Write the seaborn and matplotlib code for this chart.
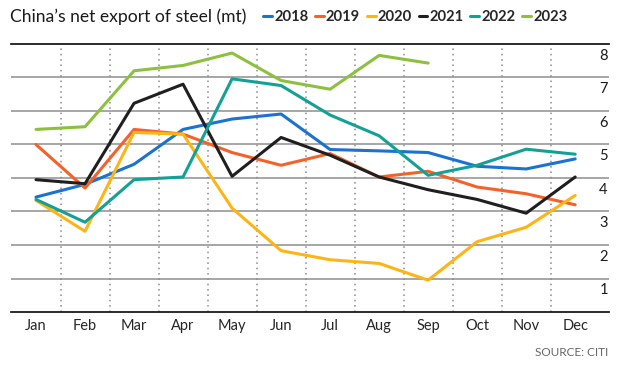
"""plot.py

China's net export of steel, monthly, 2018-2023.

"""

import matplotlib
matplotlib.use("Agg")
import matplotlib.pyplot as plt
import matplotlib.transforms as mtransforms
import numpy as np
import pandas as pd
import seaborn as sns

MONTHS = ["Jan", "Feb", "Mar", "Apr", "May", "Jun",
          "Jul", "Aug", "Sep", "Oct", "Nov", "Dec"]
YEARS = ["2018", "2019", "2020", "2021", "2022", "2023"]

# values (mt)
y2018 = [3.43, 3.81, 4.41, 5.45, 5.76, 5.91, 4.85, 4.81, 4.76, 4.35, 4.27, 4.57]
y2019 = [5.00, 3.70, 5.45, 5.31, 4.76, 4.38, 4.73, 4.03, 4.20, 3.73, 3.53, 3.20]
y2020 = [3.33, 2.41, 5.36, 5.31, 3.10, 1.83, 1.56, 1.45, 0.95, 2.10, 2.53, 3.48]
y2021 = [3.95, 3.83, 6.23, 6.80, 4.05, 5.21, 4.68, 4.03, 3.65, 3.36, 2.95, 4.03]
y2022 = [3.36, 2.68, 3.95, 4.03, 6.96, 6.76, 5.88, 5.26, 4.08, 4.38, 4.86, 4.71]
y2023 = [5.45, 5.53, 7.20, 7.36, 7.73, 6.91, 6.65, 7.66, 7.43]

COLORS = ["#1b72d2", "#f4622a", "#fdb515", "#1f1f1f", "#13a095", "#8dc03f"]
Y_TICKS = [1, 2, 3, 4, 5, 6, 7, 8]


def build_frame():
    """Long table with one row per month and year."""
    rows = []
    for year, values in zip(YEARS, [y2018, y2019, y2020, y2021, y2022, y2023]):
        for i, v in enumerate(values):
            rows.append({"month": i, "year": year, "value": v})
    return pd.DataFrame(rows)


def run():
    sns.set_style("white")
    plt.rcParams["font.family"] = ["Lato", "DejaVu Sans"]

    df = build_frame()

    fig = plt.figure(figsize=(6.2, 3.66), dpi=100)
    ax = fig.add_axes([11 / 620, 54 / 366, 598 / 620, 268 / 366])

    # horizontal grid
    for v in Y_TICKS[:-1]:
        ax.axhline(v, color="#a6a6a6", lw=1.4, zorder=0)
    # dotted month separators
    for x in np.arange(0.5, 11, 1.0):
        ax.axvline(x, color="#8a8a8a", lw=1.1, ls=(0, (1, 2.5)), zorder=0)

    sns.lineplot(data=df, x="month", y="value", hue="year",
                 palette=COLORS, hue_order=YEARS, lw=2.2, sort=False,
                 legend=False, ax=ax, zorder=3)

    ax.set_xlim(-0.51, 11.69)
    ax.set_ylim(0, 8)
    ax.set_xticks(range(12))
    ax.set_xticklabels(MONTHS, fontsize=10.5)
    ax.tick_params(axis="x", length=0, pad=5)
    ax.set_yticks([])
    ax.set_xlabel("")
    ax.set_ylabel("")

    for side in ["left", "right"]:
        ax.spines[side].set_visible(False)
    for side in ["top", "bottom"]:
        ax.spines[side].set_color("#1a1a1a")
        ax.spines[side].set_linewidth(1.3)

    # y labels hang below their gridline at the right edge
    trans = mtransforms.blended_transform_factory(ax.transAxes, ax.transData)
    for v in Y_TICKS:
        ax.annotate(str(v), xy=(0.998, v), xycoords=trans,
                    xytext=(0, -3.5), textcoords="offset points",
                    ha="right", va="top", fontsize=10.5, color="#1a1a1a")

    fig.text(10 / 620, 1 - 17 / 366, "China\u2019s net export of steel (mt)",
             fontsize=12.6, va="center", ha="left", color="#1a1a1a")

    handles = [plt.Line2D([], [], color=c, lw=2.2) for c in COLORS]
    fig.legend(handles, YEARS, loc="center left",
               bbox_to_anchor=(263 / 620, 1 - 17 / 366),
               ncol=6, frameon=False, handlelength=0.6,
               handletextpad=0.15, columnspacing=0.45,
               borderpad=0, borderaxespad=0,
               prop={"weight": "bold", "size": 10.6})

    fig.text(608 / 620, 1 - 352 / 366, "SOURCE: CITI", fontsize=8.5,
             ha="right", va="center", color="#666666")

    fig.savefig("out.png", dpi=100)


if __name__ == "__main__":
    run()
